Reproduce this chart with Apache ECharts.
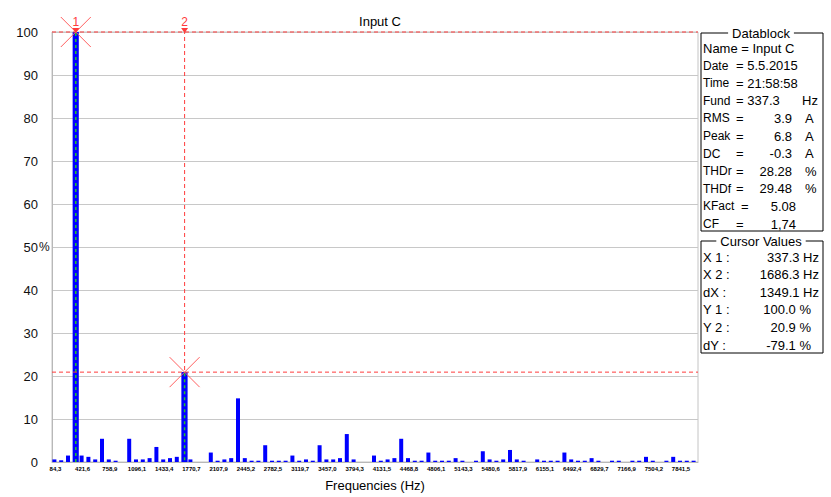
<!DOCTYPE html>
<html>
<head>
<meta charset="utf-8">
<title>Input C – harmonic spectrum</title>
<script src="https://cdn.jsdelivr.net/npm/echarts@6/dist/echarts.min.js"></script>
<style>
  html, body { margin: 0; padding: 0; background: #ffffff; }
  #chart { width: 831px; height: 497px; }
</style>
</head>
<body>
<div id="chart"></div>
<script>
// Spectrum bins (84.3 Hz resolution), amplitude in % of fundamental
const binNumbers = Array.from({ length: 95 }, (_, i) => i + 1);

// Frequency labels printed under every 4th bin, starting at bin 1
const tickLabels = [
  '84,3', '421,6', '758,9', '1096,1', '1433,4', '1770,7', '2107,9', '2445,2',
  '2782,5', '3119,7', '3457,0', '3794,3', '4131,5', '4468,8', '4806,1', '5143,3',
  '5480,6', '5817,9', '6155,1', '6492,4', '6829,7', '7166,9', '7504,2', '7841,5'
];

const barValues = [
  0.6, 0.4, 1.5, 100, 1.5, 1.2, 0.6, 5.4, 0.6, 0.3,
  0, 5.4, 0.6, 0.6, 0.9, 3.5, 0.6, 0.9, 1.2, 20.9,
  0.6, 0, 0, 2.2, 0.3, 0.6, 0.9, 14.8, 0.9, 0.3,
  0.3, 3.9, 0.3, 0.3, 0.3, 1.5, 0.3, 0.6, 0.3, 3.9,
  0.6, 0.6, 0.9, 6.5, 0.6, 0, 0, 1.5, 0.3, 0.6,
  0.9, 5.4, 0.9, 0.3, 0.3, 2.2, 0.3, 0.3, 0.3, 0.9,
  0.3, 0, 0.3, 2.5, 0.6, 0.3, 0.6, 2.8, 0.6, 0.3,
  0, 0.6, 0.3, 0.3, 0.3, 2.2, 0.6, 0.3, 0.3, 0.9,
  0.3, 0, 0.3, 0.3, 0, 0.3, 0.3, 1.2, 0.3, 0,
  0.3, 1.2, 0.3, 0.3, 0.3
];

// Cursor placement (bin numbers) and their names
const cursorBins = [4, 20];
const cursorNames = ['1', '2'];

// Datablock contents
const infoRows = [
  ['Name', 'Input C', ''],
  ['Date', '5.5.2015', ''],
  ['Time', '21:58:58', ''],
  ['Fund', '337.3', 'Hz']
];
const measureRows = [
  ['RMS', '3.9', 'A'],
  ['Peak', '6.8', 'A'],
  ['DC', '-0.3', 'A'],
  ['THDr', '28.28', '%'],
  ['THDf', '29.48', '%'],
  ['KFact', '5.08', ''],
  ['CF', '1,74', '']
];
const cursorRows = [
  ['X 1 :', '337.3', 'Hz'],
  ['X 2 :', '1686.3', 'Hz'],
  ['dX :', '1349.1', 'Hz'],
  ['Y 1 :', '100.0', '%'],
  ['Y 2 :', '20.9', '%'],
  ['dY :', '-79.1', '%']
];

const FONT = '"Liberation Sans", Arial, sans-serif';
const RED = '#ff3c3c';

const chart = echarts.init(document.getElementById('chart'), null, { renderer: 'svg' });

// Highlight series: only the cursor bins, drawn a little wider
const cursorBarData = barValues.map((v, i) => (cursorBins.indexOf(i + 1) >= 0 ? v : '-'));

const grid = { left: 52, right: 133, top: 32, bottom: 33 };

chart.setOption({
  animation: false,
  backgroundColor: '#ffffff',
  textStyle: { fontFamily: FONT },
  title: {
    text: 'Input C',
    left: 375,
    top: 10,
    textAlign: 'center',
    textStyle: { fontSize: 13, fontWeight: 'normal', color: '#000', fontFamily: FONT }
  },
  grid: Object.assign({ show: true, borderColor: '#c4c4c4', borderWidth: 1, containLabel: false }, grid),
  xAxis: {
    type: 'category',
    data: binNumbers,
    boundaryGap: true,
    name: 'Frequencies (Hz)',
    nameLocation: 'middle',
    nameGap: 17,
    nameTextStyle: { fontSize: 13, color: '#000', fontFamily: FONT },
    axisLine: { show: true, lineStyle: { color: '#b8b8b8', width: 1 } },
    axisTick: { show: false },
    splitLine: { show: false },
    axisLabel: {
      interval: 3,
      margin: 4,
      fontSize: 6,
      fontWeight: 'bold',
      color: '#000',
      fontFamily: FONT,
      formatter: (val, idx) => tickLabels[idx / 4] || ''
    }
  },
  yAxis: {
    type: 'value',
    min: 0,
    max: 100,
    interval: 10,
    axisLine: { show: true, lineStyle: { color: '#b8b8b8', width: 1 } },
    axisTick: { show: false },
    splitLine: { show: true, lineStyle: { color: '#c8c8c8', width: 1 } },
    axisLabel: { fontSize: 13, color: '#111', margin: 14, fontFamily: FONT }
  },
  series: [
    {
      type: 'bar',
      data: barValues,
      barWidth: 4,
      itemStyle: { color: '#0000ff' },
      z: 2
    },
    {
      type: 'bar',
      data: cursorBarData,
      barWidth: 6,
      barGap: '-100%',
      itemStyle: { color: '#0000ff' },
      z: 3
    },
    {
      type: 'custom',
      data: cursorBins.map((b, i) => [b - 1, barValues[b - 1], i]),
      encode: { x: 0, y: 1 },
      clip: false,
      z: 5,
      renderItem(params, api) {
        const idx = api.value(0);
        const val = api.value(1);
        const name = cursorNames[api.value(2)];
        const p = api.coord([idx, val]);
        const top = api.coord([idx, 100])[1];
        const base = api.coord([idx, 0])[1];
        const cs = params.coordSys;
        const r = 15;
        return {
          type: 'group',
          children: [
            { type: 'line', shape: { x1: cs.x, y1: p[1], x2: cs.x + cs.width, y2: p[1] },
              style: { stroke: RED, lineWidth: 1, lineDash: [4, 3] } },
            { type: 'line', shape: { x1: p[0], y1: top - 2, x2: p[0], y2: p[1] },
              style: { stroke: RED, lineWidth: 1, lineDash: [4, 3] } },
            { type: 'line', shape: { x1: p[0], y1: p[1] + 1, x2: p[0], y2: base },
              style: { stroke: '#22c822', lineWidth: 1.5, lineDash: [3, 3] } },
            { type: 'line', shape: { x1: p[0] - r, y1: p[1] - r, x2: p[0] + r, y2: p[1] + r },
              style: { stroke: '#ff6060', lineWidth: 1 } },
            { type: 'line', shape: { x1: p[0] + r, y1: p[1] - r, x2: p[0] - r, y2: p[1] + r },
              style: { stroke: '#ff6060', lineWidth: 1 } },
            { type: 'polygon', shape: { points: [[p[0] - 3.5, top - 4], [p[0] + 3.5, top - 4], [p[0], top + 1]] },
              style: { fill: RED } },
            { type: 'text', style: { text: name, x: p[0], y: top - 10, align: 'center', verticalAlign: 'middle',
              fill: RED, font: '12px ' + FONT } }
          ]
        };
      }
    }
  ]
});

// Side panels: Datablock and Cursor Values group boxes
const panelX = 701, panelRight = 823;
const labelX = 703, eqX = 736, valRight = 792, unitX = 805;
const rowH = 17.6;
const txt = (text, x, y, align, size) => ({
  type: 'text',
  silent: true,
  style: { text, x, y, align: align || 'left', verticalAlign: 'middle', fill: '#000',
    font: (size || 13) + 'px ' + FONT }
});

const panel = [];
// Datablock box
const dbTop = 33, dbBottom = 231;
panel.push({ type: 'rect', shape: { x: panelX, y: dbTop, width: panelRight - panelX, height: dbBottom - dbTop },
  style: { fill: 'none', stroke: '#000', lineWidth: 1 } });
panel.push({ type: 'text', style: { text: 'Datablock', x: 761, y: dbTop, align: 'center', verticalAlign: 'middle',
  fill: '#000', font: '13px ' + FONT, backgroundColor: '#fff', padding: [0, 4] } });
let y = 48;
infoRows.forEach((r, i) => {
  if (i === 0) {
    panel.push(txt(r[0] + ' = ' + r[1], labelX, y));
  } else {
    panel.push(txt(r[0], labelX, y, 'left', 12));
    panel.push(txt('= ' + r[1], eqX, y));
    if (r[2]) panel.push(txt(r[2], 802, y));
  }
  y += rowH;
});
measureRows.forEach((r) => {
  panel.push(txt(r[0], labelX, y, 'left', 12));
  panel.push(txt('=', r[0] === 'KFact' ? 741 : eqX, y));
  panel.push(txt(r[1], r[2] ? valRight : 796, y, 'right'));
  if (r[2]) panel.push(txt(r[2], unitX, y));
  y += rowH;
});

// Cursor values box
const cvTop = 241, cvBottom = 353;
panel.push({ type: 'rect', shape: { x: panelX, y: cvTop, width: panelRight - panelX, height: cvBottom - cvTop },
  style: { fill: 'none', stroke: '#000', lineWidth: 1 } });
panel.push({ type: 'text', style: { text: 'Cursor Values', x: 761, y: cvTop, align: 'center', verticalAlign: 'middle',
  fill: '#000', font: '13px ' + FONT, backgroundColor: '#fff', padding: [0, 4] } });
y = 257;
cursorRows.forEach((r) => {
  panel.push(txt(r[0], labelX, y));
  panel.push(txt(r[1] + ' ' + r[2], r[2] === 'Hz' ? 819 : 811, y, 'right'));
  y += rowH;
});

// Unit marker next to the 50 % tick
const y50 = chart.convertToPixel({ yAxisIndex: 0 }, 50);
panel.push({ type: 'text', style: { text: '%', x: 39, y: y50, align: 'left', verticalAlign: 'middle',
  fill: '#111', font: '12px ' + FONT } });

chart.setOption({ graphic: panel });
</script>
</body>
</html>
